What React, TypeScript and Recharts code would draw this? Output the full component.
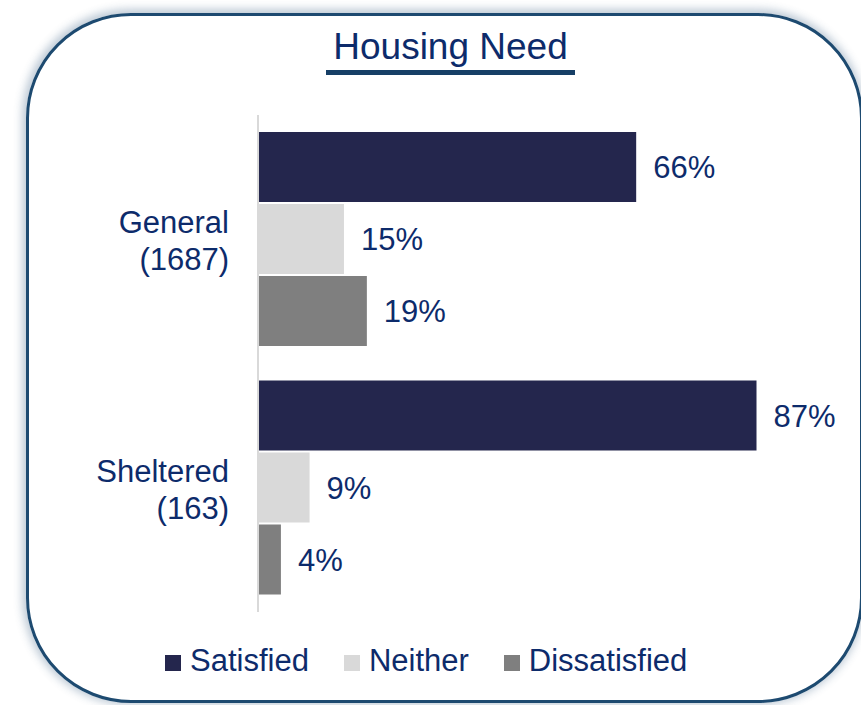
import { Bar, BarChart, LabelList, Legend, XAxis, YAxis } from "recharts";

const categories = ["General", "Sheltered"];
const counts = [1687, 163];
const satisfied = [66, 87];
const neither = [15, 9];
const dissatisfied = [19, 4];

const seriesNames = ["Satisfied", "Neither", "Dissatisfied"];
const seriesColors = ["#24264d", "#d9d9d9", "#7f7f7f"];

const textColor = "#0d2b6b";
const font = "'Liberation Sans', Arial, sans-serif";

const data = categories.map((c, i) => ({
  name: c,
  count: counts[i],
  Satisfied: satisfied[i],
  Neither: neither[i],
  Dissatisfied: dissatisfied[i],
}));

function CategoryTick(props: any) {
  const { x, y, payload } = props;
  const row = data[payload.index];
  return (
    <text x={x} y={y} textAnchor="end" fill={textColor} fontSize={31} fontFamily={font}>
      <tspan x={x} dy={-6}>{payload.value}</tspan>
      <tspan x={x} dy={37}>({row ? row.count : ""})</tspan>
    </text>
  );
}

function LegendContent(props: any) {
  // keep the series order, recharts reverses it for vertical charts
  const items = [...(props.payload || [])].sort(
    (a: any, b: any) => seriesNames.indexOf(a.value) - seriesNames.indexOf(b.value)
  );
  return (
    <div style={{ display: "flex", fontFamily: font, fontSize: 31, lineHeight: "36px", color: textColor, whiteSpace: "nowrap" }}>
      {items.map((it: any) => (
        <span key={it.value} style={{ marginRight: 35 }}>
          <span style={{ display: "inline-block", width: 16, height: 16, background: it.color, marginRight: 9 }} />
          {it.value}
        </span>
      ))}
    </div>
  );
}

export default function App() {
  return (
    <div style={{ position: "absolute", left: 0, top: 0, width: 861, height: 705, overflow: "hidden", background: "#fff" }}>
      <div
        style={{
          position: "absolute",
          left: 26,
          top: 13,
          width: 837,
          height: 690,
          boxSizing: "border-box",
          border: "3px solid #1d4a70",
          borderRadius: 105,
          boxShadow: "-1px -1px 8px 3px rgba(40,80,120,0.3)",
        }}
      />
      <div
        style={{
          position: "absolute",
          left: 326,
          top: 27,
          width: 249,
          height: 40,
          paddingBottom: 3,
          borderBottom: "5px solid #163f66",
          textAlign: "center",
          fontFamily: font,
          fontSize: 37,
          lineHeight: "40px",
          color: textColor,
        }}
      >
        Housing Need
      </div>
      <div style={{ position: "absolute", left: 0, top: 0 }}>
        <BarChart
          width={861}
          height={705}
          data={data}
          layout="vertical"
          margin={{ top: 115, right: 30, bottom: 93, left: 1 }}
          barSize={70}
          barGap={2}
        >
          <XAxis type="number" domain={[0, 100]} hide />
          <YAxis
            type="category"
            dataKey="name"
            width={257}
            axisLine={{ stroke: "#d9d9d9", strokeWidth: 2 }}
            tickLine={false}
            tickSize={0}
            tickMargin={29}
            tick={<CategoryTick />}
            interval={0}
          />
          <Legend
            layout="horizontal"
            verticalAlign="middle"
            align="center"
            content={<LegendContent />}
            wrapperStyle={{ top: 643, left: 165, bottom: "auto", width: 650 }}
          />
          {seriesNames.map((s, i) => (
            <Bar key={s} dataKey={s} fill={seriesColors[i]} isAnimationActive={false}>
              <LabelList
                dataKey={s}
                position="right"
                offset={17}
                fill={textColor}
                fontSize={31}
                fontFamily={font}
                formatter={(v: any) => `${v}%`}
              />
            </Bar>
          ))}
        </BarChart>
      </div>
    </div>
  );
}
